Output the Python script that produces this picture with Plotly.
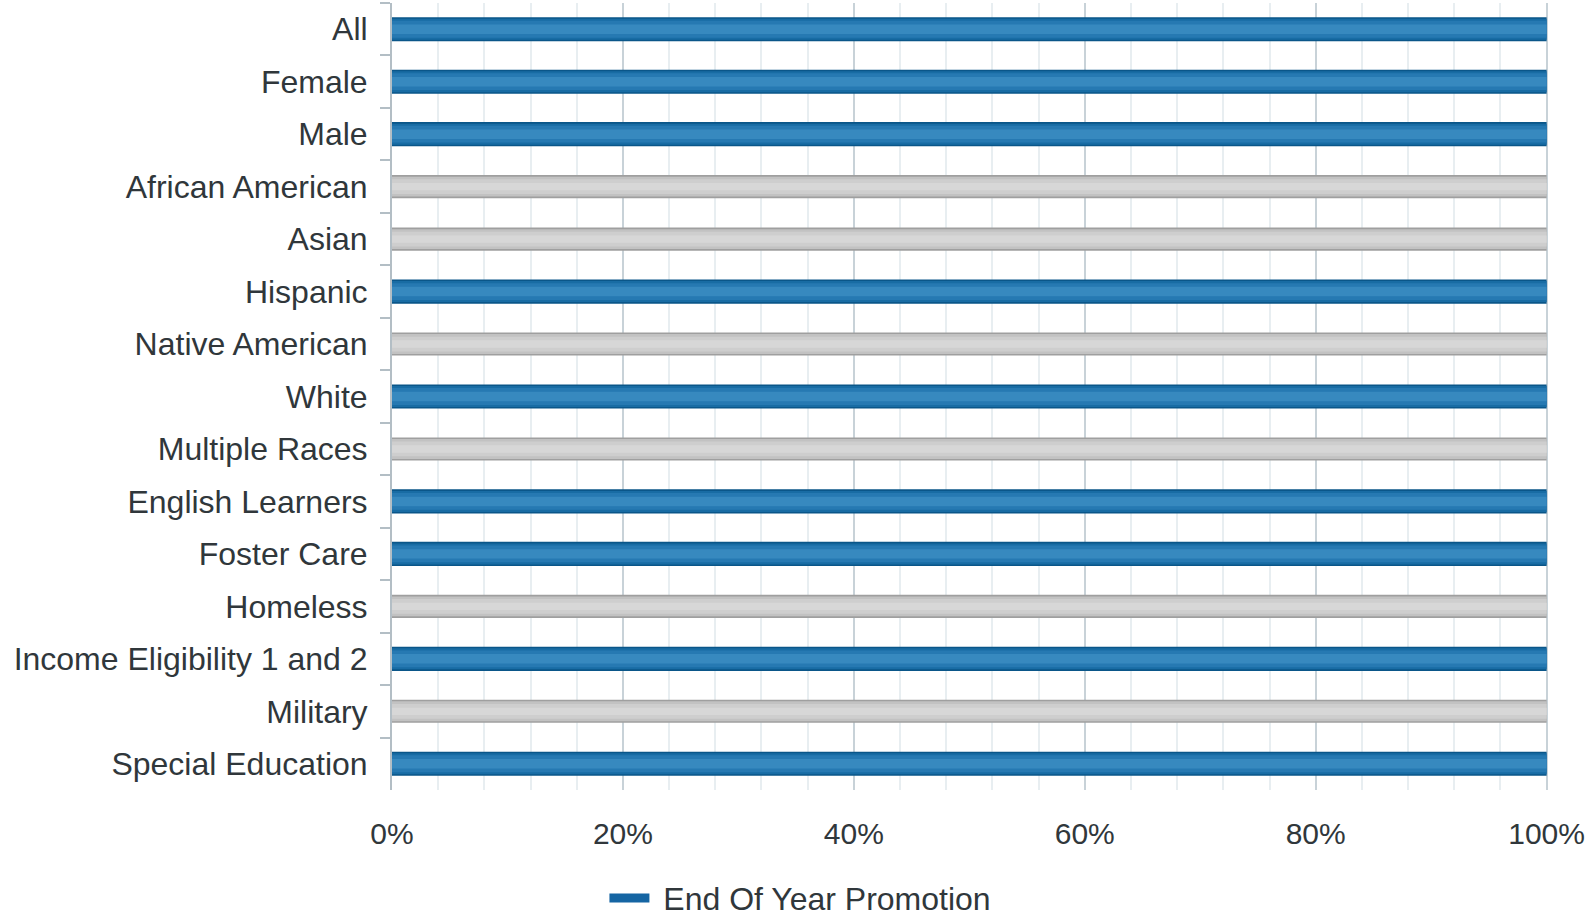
import plotly.graph_objects as go

categories = ["All", "Female", "Male", "African American", "Asian", "Hispanic",
              "Native American", "White", "Multiple Races", "English Learners",
              "Foster Care", "Homeless", "Income Eligibility 1 and 2", "Military",
              "Special Education"]
promotion = [100, 100, 100, None, None, 100, None, 100, None, 100, 100, None, 100, None, 100]
suppressed = [None, None, None, 100, 100, None, 100, None, 100, None, None, 100, None, 100, None]
x_ticks = [0, 20, 40, 60, 80, 100]
x_tick_labels = ["0%", "20%", "40%", "60%", "80%", "100%"]

FONT = "Liberation Sans, Arial, sans-serif"
TXT = "#30373b"

fig = go.Figure()

# layered bars to mimic the cylinder shading
blue_layers = [(0.46, "#0a5689"), (0.40, "#186ca4"), (0.32, "#2679b2"), (0.18, "#3789bf")]
gray_layers = [(0.44, "#9f9f9f"), (0.38, "#c2c2c2"), (0.28, "#cecece"), (0.14, "#d7d7d7")]

for w, c in gray_layers:
    fig.add_trace(go.Bar(y=categories, x=suppressed, orientation="h", width=w,
                         marker=dict(color=c, line=dict(width=0)),
                         showlegend=False, hoverinfo="skip"))
for w, c in blue_layers:
    fig.add_trace(go.Bar(y=categories, x=promotion, orientation="h", width=w,
                         marker=dict(color=c, line=dict(width=0)),
                         showlegend=False, hoverinfo="skip"))

# legend entry
fig.add_trace(go.Scatter(x=[None], y=[None], mode="lines",
                         name="\u00a0End Of Year Promotion",
                         line=dict(color="#1565a3", width=9)))

fig.update_layout(
    width=1585, height=924,
    margin=dict(l=392, r=37, t=3, b=134),
    plot_bgcolor="white", paper_bgcolor="white",
    barmode="overlay",
    font=dict(family=FONT, size=32, color=TXT),
    legend=dict(orientation="h", xref="container", yref="container",
                x=0.505, xanchor="center", y=0.028, yanchor="middle",
                font=dict(size=32, color=TXT), itemwidth=40),
)
fig.update_xaxes(
    range=[0, 100.12], tickvals=x_ticks, ticktext=x_tick_labels,
    showgrid=True, gridcolor="#c8d2d8", gridwidth=2,
    minor=dict(dtick=4, showgrid=True, gridcolor="#e8eef1", gridwidth=2),
    zeroline=False, showline=False, ticks="",
    ticklabelstandoff=23, automargin=False, ticklabeloverflow="allow",
    tickfont=dict(size=30, color=TXT),
)
fig.update_yaxes(
    categoryorder="array", categoryarray=categories,
    range=[14.5, -0.5], automargin=False,
    showline=True, linecolor="#b3bec5", linewidth=2,
    ticks="outside", tickson="boundaries", ticklen=10, tickcolor="#b3bec5", tickwidth=2,
    showgrid=False, ticklabelstandoff=16,
    tickfont=dict(size=32, color=TXT),
)

fig.write_html("out.html", config={"displayModeBar": False},
               post_script="document.body.style.margin='0';")
